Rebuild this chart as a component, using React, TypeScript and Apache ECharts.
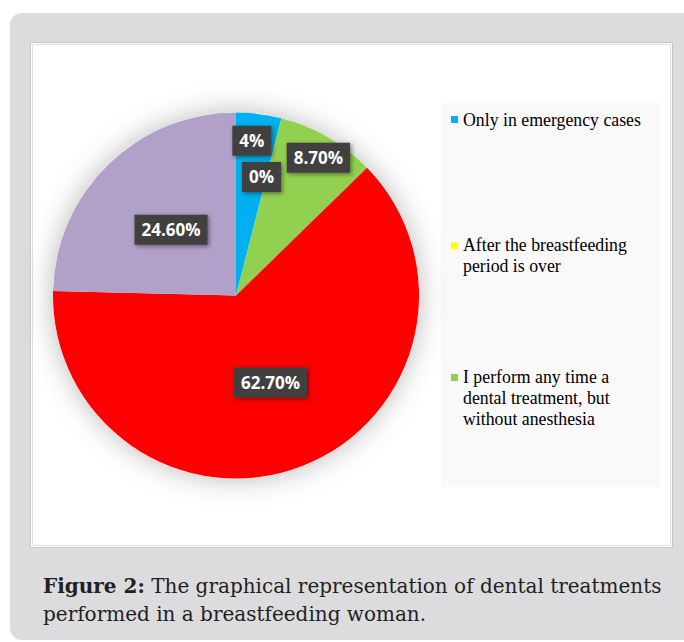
import React, { useEffect, useRef } from "react";
import * as echarts from "echarts";

// ---- data ----
const categories = [
  "Only in emergency cases",
  "After the breastfeeding period is over",
  "I perform any time a dental treatment, but without anesthesia",
  "Category 4",
  "Category 5",
];
const values = [4, 0, 8.7, 62.7, 24.6];
const legendLabels = [
  "Only in emergency cases",
  "After the breastfeeding\nperiod is over",
  "I perform any time a\ndental treatment, but\nwithout anesthesia",
];
const captionBold = "Figure 2:";
const captionLine1 = " The graphical representation of dental treatments";
const captionLine2 = "performed in a breastfeeding woman.";

// ---- styles ----
const colors = ["#00b0f0", "#ffff00", "#92d050", "#ff0000", "#b1a0c7"];
const labelOffsets: [number, number][] = [
  [4, -61],
  [2, -27],
  [35, -56],
  [0, -1],
  [1, 2],
];

const fmtPct = (v: number) => (Number.isInteger(v) ? `${v}%` : `${v.toFixed(2)}%`);

export default function App() {
  const ref = useRef<HTMLDivElement>(null);
  useEffect(() => {
    if (!ref.current) return;
    const chart = echarts.init(ref.current, undefined, { renderer: "svg" });
    const legendText = {
      fontFamily: "Liberation Serif",
      fontSize: 17.8,
      color: "#000",
      lineHeight: 21,
    };
    const legendBase = {
      orient: "vertical" as const,
      left: 451,
      itemWidth: 7,
      padding: 0,
      selectedMode: false,
      textStyle: legendText,
      formatter: (name: string) => legendLabels[categories.indexOf(name)] ?? name,
    };
    chart.setOption({
      animation: false,
      backgroundColor: "#ffffff",
      graphic: [
        {
          type: "rect",
          z: -10,
          shape: { x: 10, y: 13, width: 700, height: 627, r: 12 },
          style: { fill: "#dcdcde" },
        },
        {
          type: "rect",
          z: -9,
          shape: { x: 30.5, y: 42.5, width: 642, height: 505 },
          style: { fill: "#ffffff", stroke: "#c6c6c6", lineWidth: 1 },
        },
        {
          type: "rect",
          z: -9,
          shape: { x: 32.5, y: 44.5, width: 638, height: 501 },
          style: { fill: "none", stroke: "#dedede", lineWidth: 1 },
        },
        {
          type: "rect",
          z: -8,
          shape: { x: 441, y: 103, width: 219, height: 384 },
          style: { fill: "#f9f9f9" },
        },
      ],
      title: {
        left: 43,
        top: 572,
        padding: 0,
        text: `{b|${captionBold}}${captionLine1}\n${captionLine2}`,
        textStyle: {
          fontFamily: "DejaVu Serif",
          fontSize: 20,
          fontWeight: "normal",
          color: "#231f20",
          lineHeight: 28,
          rich: {
            b: {
              fontFamily: "DejaVu Serif",
              fontSize: 20,
              fontWeight: "bold",
              color: "#231f20",
              lineHeight: 28,
            },
          },
        },
      },
      legend: [
        { ...legendBase, top: 109, itemHeight: 7, icon: "rect", data: [categories[0]] },
        {
          ...legendBase,
          top: 234.5,
          itemHeight: 42,
          icon: "path://M0,0M0,8h7v7h-7zM7,42",
          data: [categories[1]],
        },
        {
          ...legendBase,
          top: 366,
          itemHeight: 63,
          icon: "path://M0,0M0,8h7v7h-7zM7,63",
          data: [categories[2]],
        },
      ],
      series: [
        {
          type: "pie",
          name: "shadow",
          silent: true,
          z: 1,
          center: [236, 295.5],
          radius: 183,
          label: { show: false },
          labelLine: { show: false },
          itemStyle: {
            color: "#ffffff",
            shadowBlur: 28,
            shadowColor: "rgba(0,0,0,0.28)",
          },
          data: [{ value: 1, name: "__bg" }],
        },
        {
          type: "pie",
          z: 2,
          center: [236, 295.5],
          radius: 183,
          startAngle: 90,
          clockwise: true,
          avoidLabelOverlap: false,
          silent: true,
          label: {
            show: true,
            position: "inside",
            formatter: (p: any) => fmtPct(p.value),
            color: "#ffffff",
            fontFamily: "Open Sans",
            fontWeight: "bold",
            fontSize: 17,
            lineHeight: 20,
            backgroundColor: "#404040",
            padding: [5, 7, 5, 7],
            shadowBlur: 4,
            shadowColor: "rgba(0,0,0,0.45)",
            shadowOffsetX: 1.5,
            shadowOffsetY: 1.5,
          },
          labelLine: { show: false },
          itemStyle: { borderWidth: 0 },
          data: categories.map((name, i) => ({
            name,
            value: values[i],
            itemStyle: { color: colors[i] },
            label: { offset: labelOffsets[i] },
          })),
        },
      ],
    });
    return () => chart.dispose();
  }, []);
  return (
    <div
      ref={ref}
      style={{ position: "fixed", left: 0, top: 0, width: 684, height: 642 }}
    />
  );
}
